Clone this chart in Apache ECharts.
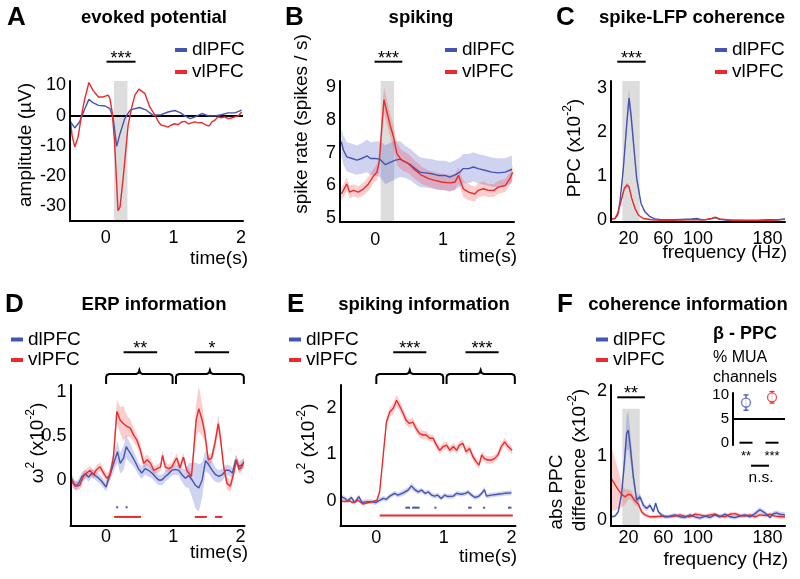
<!DOCTYPE html>
<html><head><meta charset="utf-8">
<script src="https://cdn.jsdelivr.net/npm/echarts@6/dist/echarts.min.js"></script>
<style>html,body{margin:0;padding:0;background:#fff}#c{width:800px;height:579px}</style>
</head><body><div id="c"></div>
<script>
// ---------------- DATA ----------------
// A: evoked potential
const aTimeVlA = [-0.52,-0.5,-0.46,-0.41,-0.36,-0.31,-0.25,-0.19,-0.11,-0.04,0.035,0.06,0.094,0.13,0.18,0.21,0.26,0.33,0.38,0.43,0.49,0.58,0.65,0.73,0.78,0.82,0.87,0.92,0.96,1.02,1.07,1.12,1.17,1.22,1.27,1.32,1.37,1.42,1.49,1.53,1.57,1.61,1.66,1.71,1.76,1.81,1.86,1.91,1.96,2.01];
const aVlA = [-2.1,-6.5,-10.4,-7.1,0.1,5.7,11,8.4,6.2,6.2,6.8,5.7,1.2,-8.8,-31.6,-30.4,-20,-3.2,2.3,6.8,8.8,7.3,2.9,0.1,-2.1,-3.2,-3.4,-3.8,-3.2,-2.7,-3.0,-2.1,-1.9,-2.7,-2.4,-2.1,-2.4,-2.3,-3.2,-3.4,-2.1,-1.6,-0.4,-0.7,-0.4,-1.0,-0.8,-0.4,-0.1,1.2];
const aTimeDlA = [-0.52,-0.46,-0.39,-0.31,-0.25,-0.19,-0.11,-0.01,0.06,0.11,0.16,0.21,0.28,0.36,0.43,0.5,0.6,0.7,0.82,0.92,1.02,1.1,1.17,1.25,1.32,1.42,1.52,1.61,1.71,1.81,1.91,2.01];
const aDlA = [-2.1,-4.1,-2.1,2.3,5.4,4.3,3.4,3.2,2.3,-1,-10.2,-6,-1,1.8,2.3,2.7,1.8,0.1,0.3,1.2,1.7,1,-0.1,-1,-0.4,0.7,-0.1,-0.1,0.3,0.9,0.9,1.8];
const aTicksYA = [-30,-20,-10,0,10];
const aShadeA = [0.12,0.32];
const aSigA = [[0.01,0.44,'***']];

// B: spiking
const aTimeVlB = [-0.5,-0.47,-0.42,-0.38,-0.32,-0.25,-0.17,-0.1,-0.02,0.025,0.06,0.1,0.13,0.17,0.22,0.27,0.32,0.39,0.49,0.59,0.69,0.79,0.88,0.98,1.1,1.18,1.23,1.3,1.38,1.47,1.52,1.6,1.67,1.75,1.82,1.92,1.99,2.03];
const aVlB = [5.73,5.84,6.04,5.79,5.84,5.79,5.89,6.04,6.3,6.4,6.72,7.85,8.63,8.27,7.85,7.49,6.97,6.77,6.66,6.46,6.3,6.2,6.15,6.1,6.07,6.1,6.3,5.89,5.79,5.73,5.84,5.89,5.84,5.84,5.94,5.99,6.2,6.4];
const aVlBErr = [0.2,0.2,0.2,0.2,0.18,0.18,0.2,0.22,0.22,0.25,0.3,0.35,0.4,0.38,0.35,0.35,0.35,0.3,0.3,0.28,0.27,0.25,0.25,0.25,0.25,0.25,0.25,0.25,0.25,0.22,0.22,0.22,0.2,0.2,0.2,0.2,0.2,0.22];
const aTimeDlB = [-0.5,-0.47,-0.42,-0.34,-0.27,-0.2,-0.12,-0.07,0,0.07,0.15,0.22,0.3,0.37,0.44,0.52,0.59,0.66,0.74,0.84,0.93,1.03,1.1,1.18,1.25,1.3,1.38,1.45,1.52,1.62,1.72,1.82,1.92,2.02];
const aDlB = [7.34,7.08,6.87,6.82,6.77,6.82,6.9,6.82,6.82,6.8,6.63,6.7,6.77,6.8,6.72,6.63,6.51,6.4,6.38,6.35,6.3,6.3,6.25,6.32,6.4,6.51,6.51,6.56,6.51,6.46,6.4,6.38,6.4,6.49];
const aDlBErr = [0.42,0.45,0.45,0.45,0.45,0.47,0.5,0.5,0.52,0.55,0.6,0.6,0.58,0.55,0.5,0.48,0.47,0.46,0.45,0.45,0.45,0.45,0.45,0.45,0.45,0.45,0.45,0.45,0.45,0.45,0.45,0.45,0.43,0.42];
const aTicksYB = [5,6,7,8,9];
const aShadeB = [0.08,0.28];
const aSigB = [[-0.01,0.4,'***']];

// C: spike-LFP coherence
const aFreqDlC = [0,4.6,7.7,10.3,14.2,18,20.7,23,25.7,29.5,34.5,39,44.8,50.6,58,69.7,81,92.7,98.5,104,112,119.5,125,135,146,158,169,181,192,200];
const aDlC = [0.02,0.03,0.11,0.41,1.17,2.15,2.76,2.38,1.78,0.94,0.37,0.18,0.07,0.02,0,0,0.01,0.02,0.03,0,0.01,0.05,0.01,-0.01,-0.01,-0.01,-0.01,0,0,0.02];
const aDlCErr = [0.01,0.01,0.02,0.04,0.1,0.16,0.22,0.18,0.12,0.07,0.03,0.02,0.01,0.01,0.01,0.01,0.01,0.01,0.01,0.01,0.01,0.01,0.01,0.01,0.01,0.01,0.01,0.01,0.01,0.01];
const aFreqVlC = [0,4.6,8.4,12.3,15.3,18.4,20.7,23.8,27.6,31.4,37,46.7,58,69.7,92.7,108,115.7,120,125,138.7,154,169,184.7,200];
const aVlC = [0.02,0.03,0.18,0.49,0.71,0.79,0.75,0.49,0.26,0.11,0.03,0,-0.01,-0.01,0,0,0.03,0.06,0.02,-0.01,-0.02,-0.02,-0.01,0.01];
const aVlCErr = [0.01,0.01,0.02,0.03,0.04,0.05,0.05,0.04,0.03,0.02,0.01,0.01,0.01,0.01,0.01,0.01,0.01,0.01,0.01,0.01,0.01,0.01,0.01,0.01];
const aTicksYC = [0,1,2,3];
const aTicksFreq = [20,60,100,180];
const aShadeC = [13,33];
const aSigC = [[7.2,39.9,'***']];

// D: ERP information
const aTimeVlD = [-0.52,-0.49,-0.44,-0.39,-0.34,-0.29,-0.24,-0.19,-0.14,-0.09,-0.04,0.01,0.06,0.11,0.16,0.21,0.26,0.31,0.36,0.41,0.46,0.51,0.56,0.61,0.66,0.71,0.76,0.81,0.84,0.88,0.93,0.98,1.02,1.05,1.1,1.15,1.2,1.27,1.3,1.34,1.38,1.43,1.47,1.52,1.57,1.62,1.67,1.7,1.75,1.8,1.85,1.9,1.94,1.98,2.02,2.05];
const aVlD = [0.02,-0.04,-0.07,-0.06,0.04,0.08,0.11,0.06,0.12,0.15,0.08,0.02,0.06,0.27,0.78,0.68,0.64,0.61,0.59,0.51,0.45,0.34,0.19,0.23,0.19,0.11,0.13,0.15,0.28,0.15,0.13,0.15,0.21,0.25,0.14,0.26,0.11,0.04,0.3,0.68,0.81,0.68,0.53,0.23,0.25,0.42,0.64,0.49,0.15,-0.04,-0.07,0.08,0.23,0.12,0.15,0.21];
const aVlDErr = [0.05,0.05,0.05,0.05,0.05,0.05,0.05,0.05,0.05,0.05,0.05,0.05,0.06,0.08,0.13,0.15,0.2,0.12,0.1,0.08,0.07,0.07,0.06,0.06,0.06,0.05,0.05,0.05,0.06,0.05,0.05,0.05,0.05,0.06,0.05,0.05,0.05,0.05,0.08,0.18,0.26,0.18,0.1,0.06,0.06,0.08,0.1,0.08,0.06,0.07,0.07,0.05,0.05,0.05,0.05,0.05];
const aTimeDlD = [-0.52,-0.46,-0.41,-0.36,-0.31,-0.26,-0.21,-0.16,-0.11,-0.06,0,0.03,0.08,0.13,0.17,0.21,0.26,0.3,0.33,0.38,0.43,0.48,0.53,0.58,0.63,0.68,0.73,0.78,0.83,0.88,0.93,0.98,1.03,1.08,1.13,1.18,1.23,1.28,1.33,1.38,1.43,1.48,1.53,1.58,1.63,1.68,1.73,1.78,1.83,1.88,1.93,1.98,2.05];
const aDlD = [0.02,-0.07,-0.04,0.04,0.07,0.03,0.08,0.05,0.02,-0.02,-0.08,0,0.11,0.23,0.32,0.19,0.25,0.38,0.34,0.28,0.21,0.13,0.08,0.13,0.11,0.08,0.04,0,0,0.04,0.07,0.11,0.12,0.11,0.06,0.02,0.05,0,-0.06,-0.09,0,0.22,0.17,0.11,0.06,0.04,0.06,0.11,0.11,0.08,0.23,0.15,0.19];
const aDlDErr = [0.05,0.05,0.05,0.05,0.05,0.05,0.05,0.05,0.05,0.05,0.05,0.06,0.08,0.1,0.12,0.12,0.14,0.13,0.12,0.1,0.08,0.07,0.07,0.07,0.07,0.06,0.06,0.06,0.06,0.06,0.06,0.06,0.06,0.06,0.08,0.1,0.14,0.2,0.26,0.27,0.2,0.12,0.1,0.1,0.08,0.07,0.07,0.06,0.06,0.06,0.06,0.06,0.06];
const aTicksYD = [0,0.5,1];
const aSigD = [[0.26,0.76,'**'],[1.32,1.83,'*']];
const aBracesD = [[0,0.99],[1.04,2.05]];
const aSegDlD = [[0.15,0.17],[0.29,0.31]];
const aSegVlD = [[0.12,0.52],[1.32,1.5],[1.62,1.73]];

// E: spiking information
const aTimeVlE = [-0.53,-0.47,-0.4,-0.35,-0.27,-0.2,-0.12,-0.05,0.01,0.05,0.1,0.15,0.2,0.25,0.3,0.35,0.4,0.44,0.49,0.54,0.59,0.64,0.69,0.74,0.79,0.84,0.89,0.94,0.99,1.04,1.09,1.14,1.19,1.23,1.28,1.33,1.38,1.43,1.48,1.52,1.56,1.6,1.65,1.7,1.75,1.8,1.85,1.9,1.95,2.01];
const aVlE = [0,-0.02,0,-0.04,0.01,-0.07,-0.04,-0.02,0.01,0.2,0.95,1.7,1.92,1.99,2.17,2.03,1.88,1.74,1.67,1.7,1.56,1.45,1.42,1.42,1.35,1.35,1.2,1.09,1.17,1.2,1.09,1.17,1.09,1.2,1.24,1.06,1.13,0.95,0.84,0.77,0.99,0.91,0.88,0.88,0.91,0.99,1.17,1.27,1.17,1.09];
const aVlEErr = [0.03,0.03,0.03,0.03,0.03,0.03,0.03,0.03,0.03,0.05,0.08,0.1,0.1,0.12,0.12,0.12,0.1,0.1,0.09,0.09,0.09,0.09,0.09,0.08,0.08,0.08,0.08,0.08,0.08,0.08,0.08,0.08,0.08,0.08,0.08,0.08,0.08,0.08,0.08,0.08,0.08,0.08,0.08,0.08,0.08,0.08,0.08,0.09,0.09,0.08];
const aTimeDlE = [-0.53,-0.47,-0.42,-0.37,-0.32,-0.26,-0.21,-0.15,-0.07,-0.01,0.05,0.1,0.15,0.2,0.27,0.32,0.4,0.47,0.52,0.57,0.62,0.67,0.72,0.77,0.82,0.86,0.91,0.96,1.01,1.06,1.14,1.19,1.26,1.32,1.36,1.41,1.46,1.52,1.56,1.6,1.63,1.7,1.8,1.9,2.0];
const aDlE = [0.1,0.05,0,0.07,-0.04,0.09,-0.04,-0.02,-0.02,-0.04,0.01,0.05,0.03,0.1,0.16,0.12,0.17,0.23,0.32,0.24,0.19,0.23,0.16,0.19,0.12,0.1,0.12,0.05,0.12,0.09,0.1,0.16,0.14,0.16,0.19,0.12,0.07,0.1,0.16,0.24,0.1,0.12,0.14,0.16,0.17];
const aDlEErr = [0.05,0.05,0.05,0.05,0.05,0.05,0.05,0.05,0.05,0.05,0.05,0.05,0.05,0.05,0.05,0.05,0.06,0.06,0.07,0.06,0.05,0.05,0.05,0.05,0.05,0.05,0.05,0.05,0.05,0.05,0.05,0.05,0.05,0.05,0.05,0.05,0.05,0.05,0.05,0.06,0.05,0.05,0.05,0.05,0.05];
const aTicksYE = [0,1,2];
const aSigE = [[0.25,0.74,'***'],[1.32,1.81,'***']];
const aBracesE = [[0,0.99],[1.04,2.05]];
const aSegDlE = [[0.43,0.5],[0.53,0.64],[0.86,0.88],[1.36,1.41],[1.58,1.6],[1.95,2.0]];
const aSegVlE = [[0.05,2.02]];

// F: coherence information
const aFreqVlF = [0,4.6,8.4,12.3,16.1,19.9,23,26.8,31.4,35.2,39,44.8,50.6,58.2,65.9,73.6,79.3,85,90.8,96.6,102,108,113.8,119.5,125,131,136.8,142.5,148,154,159.8,165.5,171,177,182.8,188.5,194,200];
const aVlF = [0.65,0.55,0.47,0.4,0.36,0.4,0.39,0.31,0.25,0.13,0.08,0.05,0.05,0.06,0.05,0.06,0.08,0.06,0.05,0.09,0.08,0.06,0.08,0.09,0.06,0.05,0.09,0.1,0.07,0.06,0.08,0.05,0.08,0.07,0.09,0.06,0.05,0.05];
const aVlFErr = [0.5,0.4,0.3,0.2,0.12,0.08,0.07,0.06,0.05,0.04,0.03,0.03,0.03,0.03,0.03,0.03,0.03,0.03,0.03,0.03,0.03,0.03,0.03,0.03,0.03,0.03,0.03,0.03,0.03,0.03,0.03,0.03,0.03,0.03,0.03,0.03,0.03,0.03];
const aFreqDlF = [0,4.6,8.4,12.3,15.3,18,19.9,22.2,25.7,29.5,33.3,37.2,41,44.8,48.7,51.3,54.4,58.2,62,67.8,73.6,79.3,85,90.8,96.6,102.3,108,113.8,119.5,125,131,136.8,142.5,148.3,154,159.8,165.5,171,177,182.8,186.6,190.4,194.3,200];
const aDlF = [0.05,0.06,0.13,0.42,0.88,1.35,1.4,1.14,0.67,0.31,0.36,0.23,0.18,0.23,0.13,0.26,0.13,0.08,0.05,0.06,0.08,0.05,0.04,0.08,0.05,0.03,0.06,0.04,0.08,0.05,0.09,0.05,0.04,0.06,0.08,0.05,0.1,0.16,0.11,0.04,0.1,0.11,0.09,0.08];
const aDlFErr = [0.02,0.02,0.03,0.06,0.15,0.28,0.3,0.22,0.12,0.06,0.06,0.05,0.04,0.04,0.04,0.04,0.03,0.03,0.03,0.03,0.03,0.03,0.03,0.03,0.03,0.03,0.03,0.03,0.03,0.03,0.03,0.03,0.03,0.03,0.03,0.03,0.04,0.04,0.04,0.03,0.04,0.04,0.04,0.04];
const aTicksYF = [0,1,2];
const aShadeF = [13,33,1.73];
const aSigF = [[7.2,39,'**']];

// F inset: beta-PPC % MUA channels
const aInsetCats = ['dlPFC','vlPFC'];
const aInsetVal = [8.4,9.5];
const aInsetErr = [1.6,1.2];
const aInsetStars = ['**','***'];
const aInsetRef = 5;
const aInsetTicks = [0,5,10];
const insetNs = 'n.s.';

// ---------------- STYLE / BUILD ----------------
const FF = "'Liberation Sans', Arial, Helvetica, sans-serif";
const BLUE = '#4354b2', RED = '#ea2a2c';
const BLUE_BAND = 'rgba(80,92,200,0.27)', RED_BAND = 'rgba(238,60,60,0.25)';
const SHADE = '#dddddd';

const chart = echarts.init(document.getElementById('c'), null, {renderer:'canvas'});

function pts(xs, ys){ return xs.map((x,i)=>[x, ys[i]]); }
function txtStyle(o){
  const al = o.al || 'center', va = o.va || 'middle';
  const s = {text:o.text, fontSize:o.fs||19, fontWeight:o.fw||'normal', fontFamily:FF, fill:'#000',
    align:al, textAlign:al, verticalAlign:va, textVerticalAlign:va};
  if (o.rich) s.rich = o.rich;
  return s;
}
function lineS(name, color, g, xs, ys, extra){
  return Object.assign({type:'line', name, xAxisIndex:g, yAxisIndex:g, data:pts(xs,ys), showSymbol:false, symbol:'none',
    lineStyle:{color, width:1.4}, itemStyle:{color}, z:5, silent:true, clip:true}, extra||{});
}
function bandS(color, g, xs, ys, es){
  return {type:'custom', xAxisIndex:g, yAxisIndex:g, data:[[xs[0], ys[0]]], clip:true, z:3, silent:true,
    renderItem:(p, api)=>{
      const P=[];
      for(let i=0;i<xs.length;i++) P.push(api.coord([xs[i], ys[i]+es[i]]));
      for(let i=xs.length-1;i>=0;i--) P.push(api.coord([xs[i], ys[i]-es[i]]));
      return {type:'polygon', shape:{points:P}, style:{fill:color}};
    }};
}
function shadeS(g, sh){
  return {type:'custom', xAxisIndex:g, yAxisIndex:g, data:[[sh[0], 0]], z:1, silent:true,
    renderItem:(p, api)=>{
      const cs=p.coordSys;
      const a=api.coord([sh[0],0])[0], b=api.coord([sh[1],0])[0];
      const top = sh.length>2 ? api.coord([sh[0], sh[2]])[1] : cs.y;
      return {type:'rect', shape:{x:a, y:top, width:b-a, height:cs.y+cs.height-top}, style:{fill:SHADE}};
    }};
}
function sigS(g, bars, off){
  return {type:'custom', xAxisIndex:g, yAxisIndex:g, data:[[0,0]], z:6, silent:true, clip:false,
    renderItem:(p, api)=>{
      const cs=p.coordSys, y=cs.y-off, ch=[];
      bars.forEach(b=>{
        const x1=api.coord([b[0],0])[0], x2=api.coord([b[1],0])[0];
        ch.push({type:'line', shape:{x1, y1:y, x2, y2:y}, style:{stroke:'#000', lineWidth:2}});
        ch.push({type:'text', x:(x1+x2)/2, y:y-3, style:txtStyle({text:b[2], fs:18})});
      });
      return {type:'group', children:ch};
    }};
}
function braceS(g, braces){
  return {type:'custom', xAxisIndex:g, yAxisIndex:g, data:[[0,0]], z:6, silent:true, clip:false,
    renderItem:(p, api)=>{
      const cs=p.coordSys, y0=cs.y-11, yb=cs.y-1, yc=cs.y-16, ch=[];
      braces.forEach(b=>{
        const x1=api.coord([b[0],0])[0], x2=api.coord([b[1],0])[0], xm=(x1+x2)/2;
        const P=[[x1,yb],[x1,y0+3],[x1+0.8,y0+1],[x1+3,y0],[xm-3,y0],[xm-1,y0-1],[xm,yc+1],[xm+1,y0-1],[xm+3,y0],[x2-3,y0],[x2-0.8,y0+1],[x2,y0+3],[x2,yb]];
        ch.push({type:'polyline', shape:{points:P}, style:{stroke:'#000', lineWidth:2, fill:null}});
      });
      return {type:'group', children:ch};
    }};
}
function segS(g, segs, level, color){
  return {type:'custom', xAxisIndex:g, yAxisIndex:g, data:[[0,level]], z:6, silent:true, clip:false,
    renderItem:(p, api)=>{
      const ch=[];
      segs.forEach(s=>{
        const a=api.coord([s[0],level]), b=api.coord([s[1],level]);
        const x2=Math.max(b[0], a[0]+2);
        ch.push({type:'line', shape:{x1:a[0], y1:a[1], x2, y2:a[1]}, style:{stroke:color, lineWidth:2}});
      });
      return {type:'group', children:ch};
    }};
}

const grids = [
  {left:70, top:81, width:173, height:140},
  {left:340, top:81, width:174, height:141},
  {left:611, top:81, width:174, height:141},
  {left:70.5, top:385, width:174, height:141},
  {left:340.5, top:385, width:175, height:141},
  {left:611, top:385, width:174, height:141},
  {left:733, top:393, width:52, height:52}
].map(g=>Object.assign({outerBoundsMode:'none', containLabel:false}, g));

const axLine = {show:true, onZero:false, lineStyle:{color:'#000', width:2}};
function xV(g, min, max, ticks, mg){
  return {type:'value', gridIndex:g, min, max, z:10, axisLine:axLine, axisTick:{show:false}, splitLine:{show:false},
    axisLabel:{customValues:ticks, color:'#000', fontSize:18, fontFamily:FF, margin:mg}};
}
function yV(g, min, max, ticks, fs){
  return {type:'value', gridIndex:g, min, max, z:10, axisLine:axLine, axisTick:{show:false}, splitLine:{show:false},
    axisLabel:{customValues:ticks, color:'#000', fontSize:fs||18, fontFamily:FF, margin:4}};
}
const aTicksTime = [0,1,2];
const xAxes = [
  xV(0,-0.53,2.03,aTicksTime,8), xV(1,-0.52,2.05,aTicksTime,9), xV(2,0,200,aTicksFreq,8),
  xV(3,-0.53,2.06,aTicksTime,2), xV(4,-0.53,2.06,aTicksTime,3), xV(5,0,200,aTicksFreq,3),
  {type:'category', gridIndex:6, data:aInsetCats, axisLine:{show:false}, axisTick:{show:false}, axisLabel:{show:false}, splitLine:{show:false}}
];
const yAxes = [
  yV(0,-35,11.5,aTicksYA), yV(1,4.87,9.2,aTicksYB), yV(2,-0.05,3.15,aTicksYC),
  yV(3,-0.523,1.08,aTicksYD), yV(4,-0.546,2.5,aTicksYE), yV(5,-0.093,2.1,aTicksYF),
  yV(6,-0.48,10.4,aInsetTicks,15)
];

const zeroLine = {silent:true, symbol:['none','none'], label:{show:false}, lineStyle:{color:'#000', width:2, type:'solid'}, data:[{yAxis:0}]};
const series = [
  // A
  shadeS(0, aShadeA),
  lineS('dlPFC', BLUE, 0, aTimeDlA, aDlA),
  lineS('vlPFC', RED, 0, aTimeVlA, aVlA, {markLine:zeroLine}),
  sigS(0, aSigA, 19.3),
  // B
  shadeS(1, aShadeB),
  bandS(BLUE_BAND, 1, aTimeDlB, aDlB, aDlBErr),
  bandS(RED_BAND, 1, aTimeVlB, aVlB, aVlBErr),
  lineS('dlPFC', BLUE, 1, aTimeDlB, aDlB),
  lineS('vlPFC', RED, 1, aTimeVlB, aVlB),
  sigS(1, aSigB, 19.3),
  // C
  shadeS(2, aShadeC),
  bandS(BLUE_BAND, 2, aFreqDlC, aDlC, aDlCErr),
  bandS(RED_BAND, 2, aFreqVlC, aVlC, aVlCErr),
  lineS('dlPFC', BLUE, 2, aFreqDlC, aDlC),
  lineS('vlPFC', RED, 2, aFreqVlC, aVlC),
  sigS(2, aSigC, 19.3),
  // D
  bandS(BLUE_BAND, 3, aTimeDlD, aDlD, aDlDErr),
  bandS(RED_BAND, 3, aTimeVlD, aVlD, aVlDErr),
  lineS('dlPFC', BLUE, 3, aTimeDlD, aDlD),
  lineS('vlPFC', RED, 3, aTimeVlD, aVlD),
  sigS(3, aSigD, 32.7),
  braceS(3, aBracesD),
  segS(3, aSegDlD, -0.31, BLUE),
  segS(3, aSegVlD, -0.42, RED),
  // E
  bandS(BLUE_BAND, 4, aTimeDlE, aDlE, aDlEErr),
  bandS(RED_BAND, 4, aTimeVlE, aVlE, aVlEErr),
  lineS('dlPFC', BLUE, 4, aTimeDlE, aDlE),
  lineS('vlPFC', RED, 4, aTimeVlE, aVlE),
  sigS(4, aSigE, 32.7),
  braceS(4, aBracesE),
  segS(4, aSegDlE, -0.15, BLUE),
  segS(4, aSegVlE, -0.32, RED),
  // F
  shadeS(5, aShadeF),
  bandS(RED_BAND, 5, aFreqVlF, aVlF, aVlFErr),
  bandS(BLUE_BAND, 5, aFreqDlF, aDlF, aDlFErr),
  lineS('vlPFC', RED, 5, aFreqVlF, aVlF),
  lineS('dlPFC', BLUE, 5, aFreqDlF, aDlF),
  sigS(5, aSigF, -12.3),
  // inset
  {type:'custom', xAxisIndex:6, yAxisIndex:6, z:4, silent:true, clip:false,
    data: aInsetVal.map((v,i)=>[i, v, aInsetErr[i]]),
    renderItem:(p, api)=>{
      const i=api.value(0), v=api.value(1), e=api.value(2), c=[BLUE,RED][p.dataIndex];
      const t=api.coord([i, v+e]), b=api.coord([i, v-e]);
      return {type:'group', children:[
        {type:'line', shape:{x1:t[0], y1:t[1], x2:b[0], y2:b[1]}, style:{stroke:c, lineWidth:1.3}},
        {type:'line', shape:{x1:t[0]-2.5, y1:t[1], x2:t[0]+2.5, y2:t[1]}, style:{stroke:c, lineWidth:1.3}},
        {type:'line', shape:{x1:b[0]-2.5, y1:b[1], x2:b[0]+2.5, y2:b[1]}, style:{stroke:c, lineWidth:1.3}}
      ]};
    }},
  {type:'scatter', xAxisIndex:6, yAxisIndex:6, z:5, silent:true, symbol:'circle', symbolSize:9,
    data: aInsetVal.map((v,i)=>({value:[i,v], itemStyle:{color:'#fff', borderColor:[BLUE,RED][i], borderWidth:1.3}})),
    markLine:{silent:true, symbol:['none','none'], label:{show:false}, lineStyle:{color:'#000', width:2, type:'solid'}, data:[{yAxis:aInsetRef}]}},
  {type:'custom', xAxisIndex:6, yAxisIndex:6, z:6, silent:true, clip:false, data:[[0,0]],
    renderItem:(p, api)=>{
      const ch=[];
      const c0=api.coord([0,0]), c1=api.coord([1,0]);
      [c0,c1].forEach((c,i)=>{
        ch.push({type:'line', shape:{x1:c[0]-6.5, y1:c[1], x2:c[0]+6.5, y2:c[1]}, style:{stroke:'#000', lineWidth:2}});
        ch.push({type:'text', x:c[0], y:c[1]+14, style:txtStyle({text:aInsetStars[i], fs:13})});
      });
      const yn=c0[1]+23;
      ch.push({type:'line', shape:{x1:c0[0]+5, y1:yn, x2:c1[0]-3, y2:yn}, style:{stroke:'#000', lineWidth:2}});
      ch.push({type:'text', x:(c0[0]+c1[0])/2+2, y:yn+12, style:txtStyle({text:insetNs, fs:15.5})});
      return {type:'group', children:ch};
    }}
];

const legendPos = [[175,40.5,3],[445,40.5,3],[715,40.5,3],[11,330,1.5],[289,330,1.5],[596,330,1.5]];
const legends = legendPos.map(c=>({data:['dlPFC','vlPFC'], orient:'vertical', left:c[0], top:c[1], itemGap:c[2],
  itemWidth:12, itemHeight:4, icon:'rect', padding:0, selectedMode:false,
  textStyle:{fontSize:19, fontFamily:FF, color:'#000', lineHeight:19}}));

const SUP = {s:{fontSize:12, fontFamily:FF, verticalAlign:'top', lineHeight:13}, n:{fontSize:19, fontFamily:FF, lineHeight:27}};
const R90 = Math.PI/2;
function T(text, x, y, o){ o=o||{}; return {type:'text', x, y, rotation:o.rot||0, silent:true, z:20,
  style:txtStyle(Object.assign({text}, o))}; }
const graphics = [
  T('A', 7, 18, {fs:26, fw:'bold', al:'left'}), T('evoked potential', 154, 18, {fs:18.5, fw:'bold'}),
  T('B', 285, 18, {fs:26, fw:'bold', al:'left'}), T('spiking', 421, 18, {fs:18.5, fw:'bold'}),
  T('C', 556, 18, {fs:26, fw:'bold', al:'left'}), T('spike-LFP coherence', 692, 18, {fs:18.5, fw:'bold'}),
  T('D', 5, 305, {fs:26, fw:'bold', al:'left'}), T('ERP information', 154, 305, {fs:18.5, fw:'bold'}),
  T('E', 287, 305, {fs:26, fw:'bold', al:'left'}), T('spiking information', 424, 305, {fs:18.5, fw:'bold'}),
  T('F', 557, 305, {fs:26, fw:'bold', al:'left'}), T('coherence information', 688, 305, {fs:18.5, fw:'bold'}),
  T('amplitude (µV)', 26, 145, {rot:R90}),
  T('spike rate (spikes / s)', 302, 124, {rot:R90}),
  T('{n|PPC (x10}{s|-2}{n|)}', 575, 148, {rot:R90, rich:SUP}),
  T('{n|ω}{s|2}{n| (x10}{s|-2}{n|)}', 38, 443, {rot:R90, rich:SUP}),
  T('{n|ω}{s|2}{n| (x10}{s|-2}{n|)}', 309, 444, {rot:R90, rich:SUP}),
  T('abs PPC', 557, 492, {rot:R90}),
  T('{n|difference (x10}{s|-2}{n|)}', 580, 460, {rot:R90, rich:SUP}),
  T('time(s)', 248, 259, {al:'right'}),
  T('time(s)', 517, 257, {al:'right'}),
  T('frequency (Hz)', 787, 253, {al:'right'}),
  T('time(s)', 248, 553, {al:'right'}),
  T('time(s)', 517, 557, {al:'right'}),
  T('frequency (Hz)', 788, 560, {al:'right'}),
  T('β - PPC', 745, 334, {fs:18, fw:'bold'}),
  T('% MUA', 713, 358, {fs:16, al:'left'}),
  T('channels', 713, 378, {fs:16, al:'left'})
];

chart.setOption({
  animation:false,
  backgroundColor:'#fff',
  textStyle:{fontFamily:FF},
  grid:grids, xAxis:xAxes, yAxis:yAxes, series, legend:legends,
  graphic:{elements:graphics}
});
</script></body></html>
